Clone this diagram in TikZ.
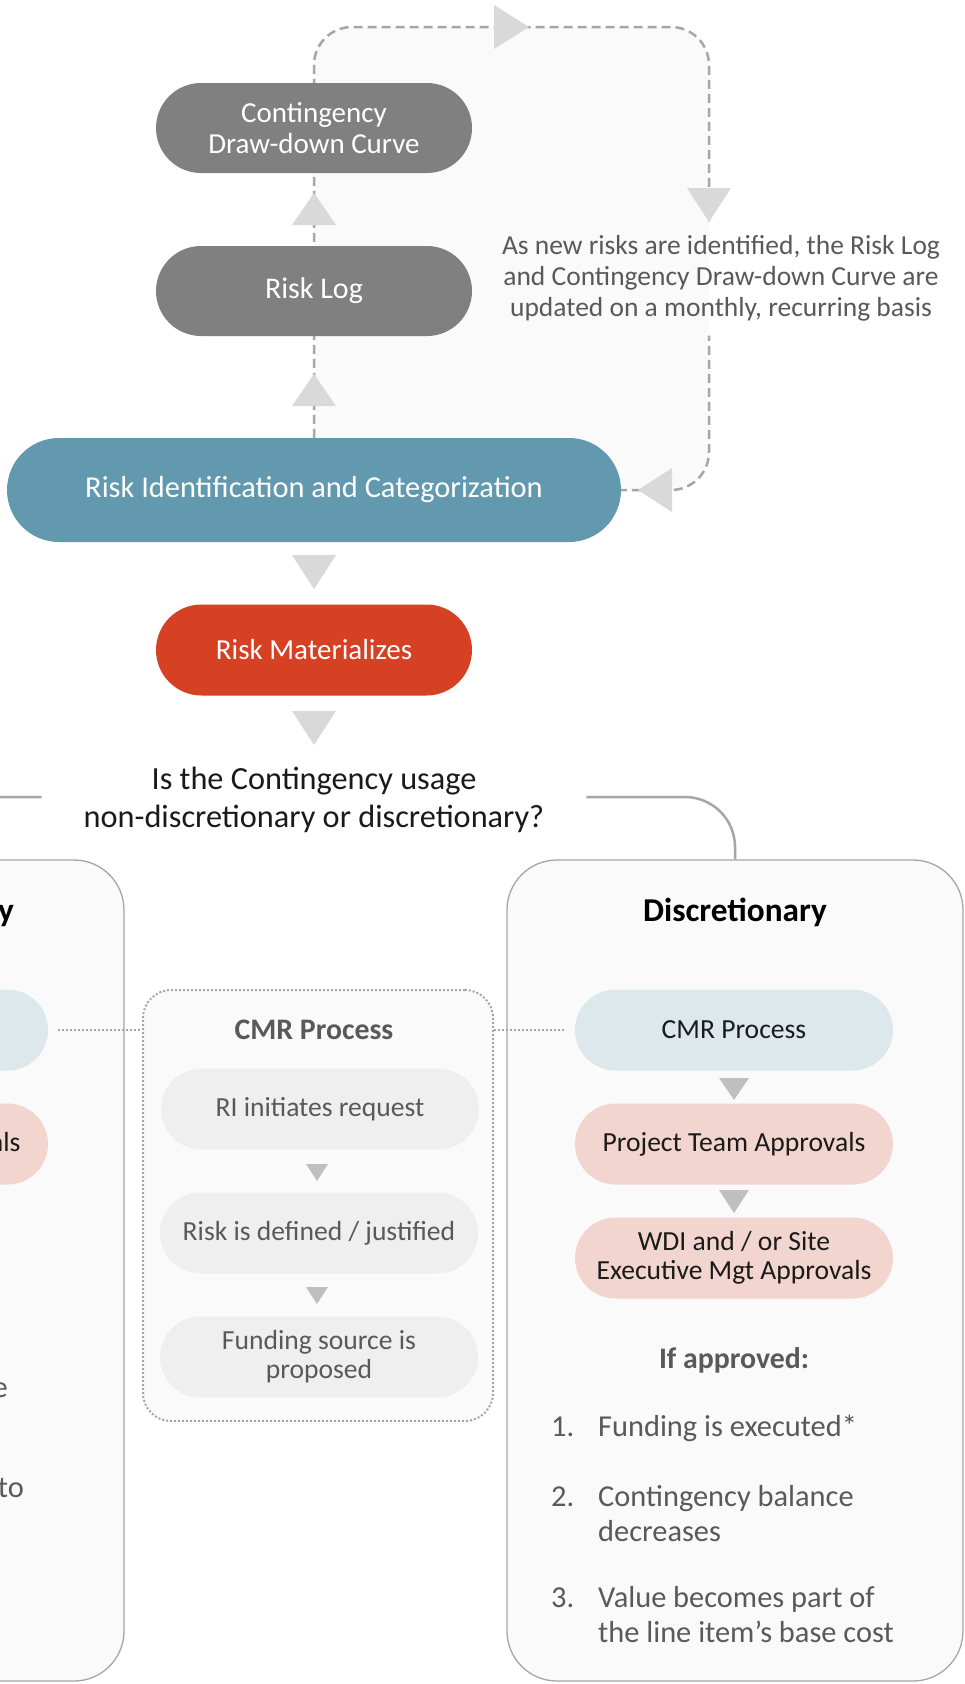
\documentclass[tikz,border=0pt]{standalone}
\usepackage{fontspec}
\setmainfont{Carlito}
\usetikzlibrary{shapes.misc}
\definecolor{nodegray}{HTML}{808080}
\definecolor{riskblue}{HTML}{6399AE}
\definecolor{riskred}{HTML}{D64123}
\definecolor{paleblue}{HTML}{DCE8EC}
\definecolor{palepink}{HTML}{F2D5CF}
\definecolor{lightnode}{HTML}{EFEFEF}
\definecolor{boxfill}{HTML}{FAFAFA}
\definecolor{linegray}{HTML}{A6A6A6}
\definecolor{trigray}{HTML}{D9D9D9}
\definecolor{smalltri}{HTML}{BFBFBF}
\definecolor{textgray}{HTML}{595959}
\definecolor{textdark}{HTML}{1A1A1A}
\tikzset{
  loopline/.style={draw=linegray, line width=2.5pt, dash pattern=on 9pt off 5pt},
  conn/.style={draw=linegray, line width=2.5pt},
  dotline/.style={draw=linegray, line width=2pt, dash pattern=on 2pt off 2pt},
  pill/.style={rounded rectangle, inner sep=0pt, align=center},
  toppill/.style={pill, fill=nodegray, text=white, minimum width=316pt, minimum height=90pt,
    font=\fontsize{29}{31}\selectfont},
  lowpill/.style={pill, minimum width=318pt, minimum height=81pt,
    font=\fontsize{27.6}{29}\selectfont},
  bluepill/.style={lowpill, fill=paleblue, text=textdark},
  pinkpill/.style={lowpill, fill=palepink, text=textdark},
  graypill/.style={lowpill, fill=lightnode, text=textgray},
  bigbox/.style={draw=linegray, line width=1.3pt, fill=boxfill, rounded corners=50pt,
    minimum width=456pt, minimum height=821pt, inner sep=0pt},
  dotbox/.style={dotline, fill=boxfill, rounded corners=28pt,
    minimum width=350pt, minimum height=431pt, inner sep=0pt},
  boxtitle/.style={inner sep=0pt, text=black, font=\fontsize{33.3}{36}\selectfont\bfseries},
  subtitle/.style={inner sep=0pt, text=textgray, font=\fontsize{29.8}{32}\selectfont\bfseries},
  listtext/.style={inner sep=0pt, text=textgray, font=\fontsize{30.4}{35}\selectfont},
}
\begin{document}
\begin{tikzpicture}[x=1pt, y=-1pt]
\useasboundingbox (0,0) rectangle (964,1684);
\clip (0,0) rectangle (964,1684);
\fill[white] (0,0) rectangle (964,1684);

% feedback loop region
\fill[boxfill, rounded corners=38pt] (314,490) -- (314,27) -- (709,27) -- (709,490) -- cycle;

% annotation
\node[inner xsep=4pt, inner ysep=14pt, align=center, text=textgray,
  font=\fontsize{27.5}{31}\selectfont] (note) at (721,278.5)
  {As new risks are identified, the Risk Log\\and Contingency Draw-down Curve are\\updated on a monthly, recurring basis};

% main nodes
\node[pill, fill=riskblue, text=white, minimum width=614pt, minimum height=104pt,
  font=\fontsize{30.4}{33}\selectfont] (rid) at (314,490) {Risk Identification and Categorization};
\begin{scope}[even odd rule]
\clip (-10,-10) rectangle (974,1694) (note.north west) rectangle (note.south east);
\draw[loopline, rounded corners=38pt] (rid.north) -- (314,27) -- (709,27) -- (709,490) -- (rid.east);
\end{scope}
\node[toppill] (cdc) at (314,128) {Contingency\\Draw-down Curve};
\node[toppill, font=\fontsize{30}{31}\selectfont] (rlog) at (314,291) {Risk Log};
\node[toppill, fill=riskred, minimum height=91pt] (rmat) at (314,650) {Risk Materializes};

% big arrowheads
\fill[trigray] (494,5) -- (529,27) -- (494,49) -- cycle;
\fill[trigray] (687,188) -- (731,188) -- (709,222) -- cycle;
\fill[trigray] (672,468) -- (638,490) -- (672,512) -- cycle;
\fill[trigray] (292,225) -- (336,225) -- (314,193) -- cycle;
\fill[trigray] (292,406) -- (336,406) -- (314,374) -- cycle;
\fill[trigray] (292,555) -- (336,555) -- (314,589) -- cycle;
\fill[trigray] (292,711) -- (336,711) -- (314,745) -- cycle;

% question
\node[inner xsep=42pt, inner ysep=0pt, align=center, text=textdark,
  font=\fontsize{32.3}{38}\selectfont] (q) at (314,800)
  {Is the Contingency usage\\non-discretionary or discretionary?};

% branch boxes
\node[bigbox] (disc) at (735,1270.5) {};
\node[bigbox] (nondisc) at (-104,1270.5) {};
\draw[conn, rounded corners=50pt] (q.east |- 0,797) -| (disc.north);
\draw[conn, rounded corners=50pt] (q.west |- 0,797) -| (nondisc.north);

% left (non-discretionary) box, mostly outside the picture
\node[boxtitle, anchor=east] (ndt) at (14,912) {Non-Discretionary};
\node[bluepill] (lcmr) at (-111,1030) {};
\node[pinkpill] (lpta) at (-111,1144) {Project Team Approvals};
\node[listtext, anchor=base east] (le) at (8,1397) {e};
\node[listtext, anchor=base east] (lto) at (24,1497) {to};

% CMR process box
\node[dotbox] (cmrbox) at (318,1205.5) {};
\node[subtitle] (cmrt) at (314,1030) {CMR Process};
\node[graypill] (g1) at (320,1109) {RI initiates request};
\node[graypill] (g2) at (319,1233) {Risk is defined / justified};
\node[graypill] (g3) at (319,1357) {Funding source is\\proposed};
\fill[smalltri] (306,1164) -- (328,1164) -- (317,1181) -- cycle;
\fill[smalltri] (306,1287) -- (328,1287) -- (317,1304) -- cycle;

% right (discretionary) box
\node[boxtitle] (dt) at (735,912) {Discretionary};
\node[bluepill] (rcmr) at (734,1030) {CMR Process};
\node[pinkpill] (rpta) at (734,1144) {Project Team Approvals};
\node[pinkpill] (rwdi) at (734,1258) {WDI and / or Site\\Executive Mgt Approvals};
\fill[smalltri] (719,1078) -- (749,1078) -- (734,1100) -- cycle;
\fill[smalltri] (719,1190) -- (749,1190) -- (734,1213) -- cycle;
\node[subtitle] (ifa) at (734,1360) {If approved:};
\node[listtext, anchor=north west] (list) at (551,1411.5)
  {\begin{tabular}{@{}p{47pt}@{}l@{}}
   1. & Funding is executed*\\[35pt]
   2. & Contingency balance\\
      & decreases\\[31pt]
   3. & Value becomes part of\\
      & the line item’s base cost
   \end{tabular}};

% dotted links
\draw[dotline, shorten <=10pt] (lcmr.east) -- (lcmr.east -| cmrbox.west);
\draw[dotline, shorten >=10pt] (cmrbox.east |- rcmr.west) -- (rcmr.west);
\end{tikzpicture}
\end{document}
